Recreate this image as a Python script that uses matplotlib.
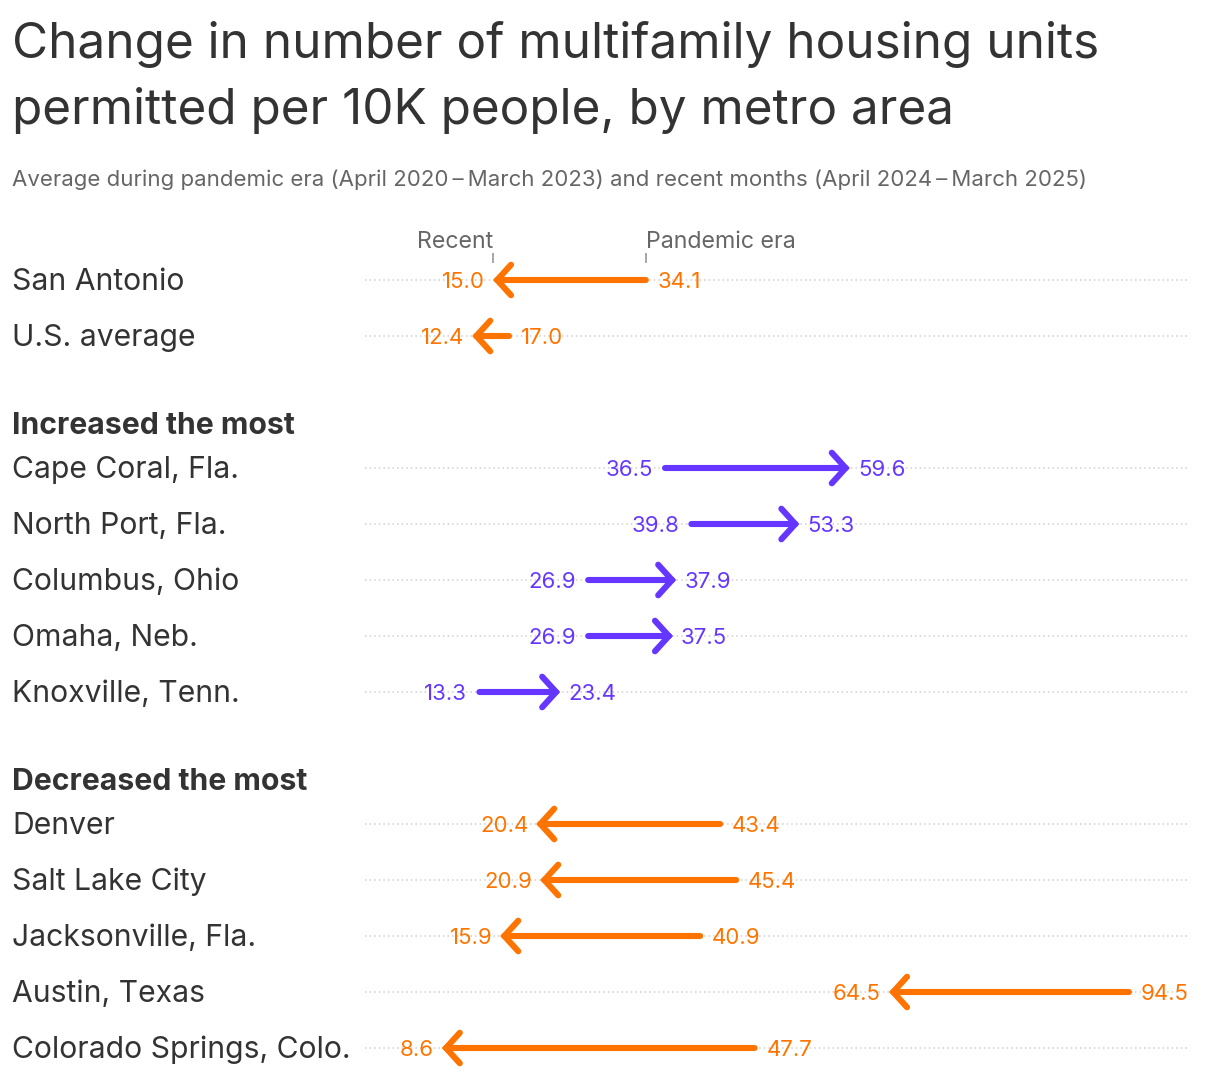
import matplotlib.pyplot as plt
from matplotlib.transforms import blended_transform_factory

plt.rcParams["font.family"] = ["Inter", "DejaVu Sans"]

# Data: (label, pandemic era, recent)
top_names = ["San Antonio", "U.S. average"]
top_pandemic = [34.1, 17.0]
top_recent = [15.0, 12.4]

inc_names = ["Cape Coral, Fla.", "North Port, Fla.", "Columbus, Ohio", "Omaha, Neb.", "Knoxville, Tenn."]
inc_pandemic = [36.5, 39.8, 26.9, 26.9, 13.3]
inc_recent = [59.6, 53.3, 37.9, 37.5, 23.4]

dec_names = ["Denver", "Salt Lake City", "Jacksonville, Fla.", "Austin, Texas", "Colorado Springs, Colo."]
dec_pandemic = [43.4, 45.4, 40.9, 94.5, 47.7]
dec_recent = [20.4, 20.9, 15.9, 64.5, 8.6]

groups = [
    (None, top_names, top_pandemic, top_recent),
    ("Increased the most", inc_names, inc_pandemic, inc_recent),
    ("Decreased the most", dec_names, dec_pandemic, dec_recent),
]

ORANGE = "#ff7400"
PURPLE = "#6436ff"
DARK = "#333333"
GRAY = "#666666"

W, H = 1220, 1080
fig = plt.figure(figsize=(W / 100, H / 100), dpi=100)
ax = fig.add_axes([365 / W, 0, 822 / W, 1])
ax.set_xlim(-1, 101.75)
ax.set_ylim(H, 0)
ax.axis("off")
lab_tr = blended_transform_factory(fig.transFigure, ax.transData)

# layout in pixel rows
y = 280
row_step = 56
dy = 2  # nudge text down a bit to sit on the row line
for gi, (header, names, pand, rec) in enumerate(groups):
    if gi > 0:
        y += 76
        ax.text(12 / W, y - 44 + dy, header, transform=lab_tr, ha="left", va="center",
                fontsize=21.7, fontweight="bold", color=DARK)
    for name, p, r in zip(names, pand, rec):
        color = PURPLE if r > p else ORANGE
        ax.hlines(y, -1, 101.75, color="#cfcfcf", lw=1.1, linestyle=(0, (1, 2)), zorder=1)
        ax.text(12 / W, y + dy, name, transform=lab_tr, ha="left", va="center",
                fontsize=21.7, color=DARK)
        ax.annotate("", xy=(r, y), xytext=(p, y),
                    arrowprops=dict(arrowstyle="->,head_length=0.5,head_width=0.55",
                                    mutation_scale=20, lw=4.4, color=color,
                                    shrinkA=0, shrinkB=0, capstyle="round",
                                    joinstyle="miter"), zorder=3)
        lo, hi = min(p, r), max(p, r)
        lo_pad = -8 if lo == r else -12
        hi_pad = 8 if hi == r else 12
        ax.annotate(f"{lo:.1f}", xy=(lo, y), xytext=(lo_pad * 0.72, -dy * 0.72),
                    textcoords="offset points", ha="right", va="center",
                    fontsize=16, color=color)
        ax.annotate(f"{hi:.1f}", xy=(hi, y), xytext=(hi_pad * 0.72, -dy * 0.72),
                    textcoords="offset points", ha="left", va="center",
                    fontsize=16, color=color)
        if name == "San Antonio":
            for val, txt, ha in [(r, "Recent", "right"), (p, "Pandemic era", "left")]:
                ax.vlines(val, 253, 263, color="#999999", lw=1.2)
                ax.text(val, 248, txt, ha=ha, va="baseline", fontsize=16.7, color=GRAY)
        y += row_step

fig.text(12 / W, 1 - 44 / H, "Change in number of multifamily housing units",
         ha="left", va="center", fontsize=35.6, color=DARK)
fig.text(12 / W, 1 - 111 / H, "permitted per 10K people, by metro area",
         ha="left", va="center", fontsize=35.6, color=DARK)
fig.text(12 / W, 1 - 180 / H,
         "Average during pandemic era (April 2020\u2009\u2013\u2009March 2023) and recent months "
         "(April 2024\u2009\u2013\u2009March 2025)",
         ha="left", va="center", fontsize=16, color=GRAY)

fig.savefig("out.png", dpi=100)
